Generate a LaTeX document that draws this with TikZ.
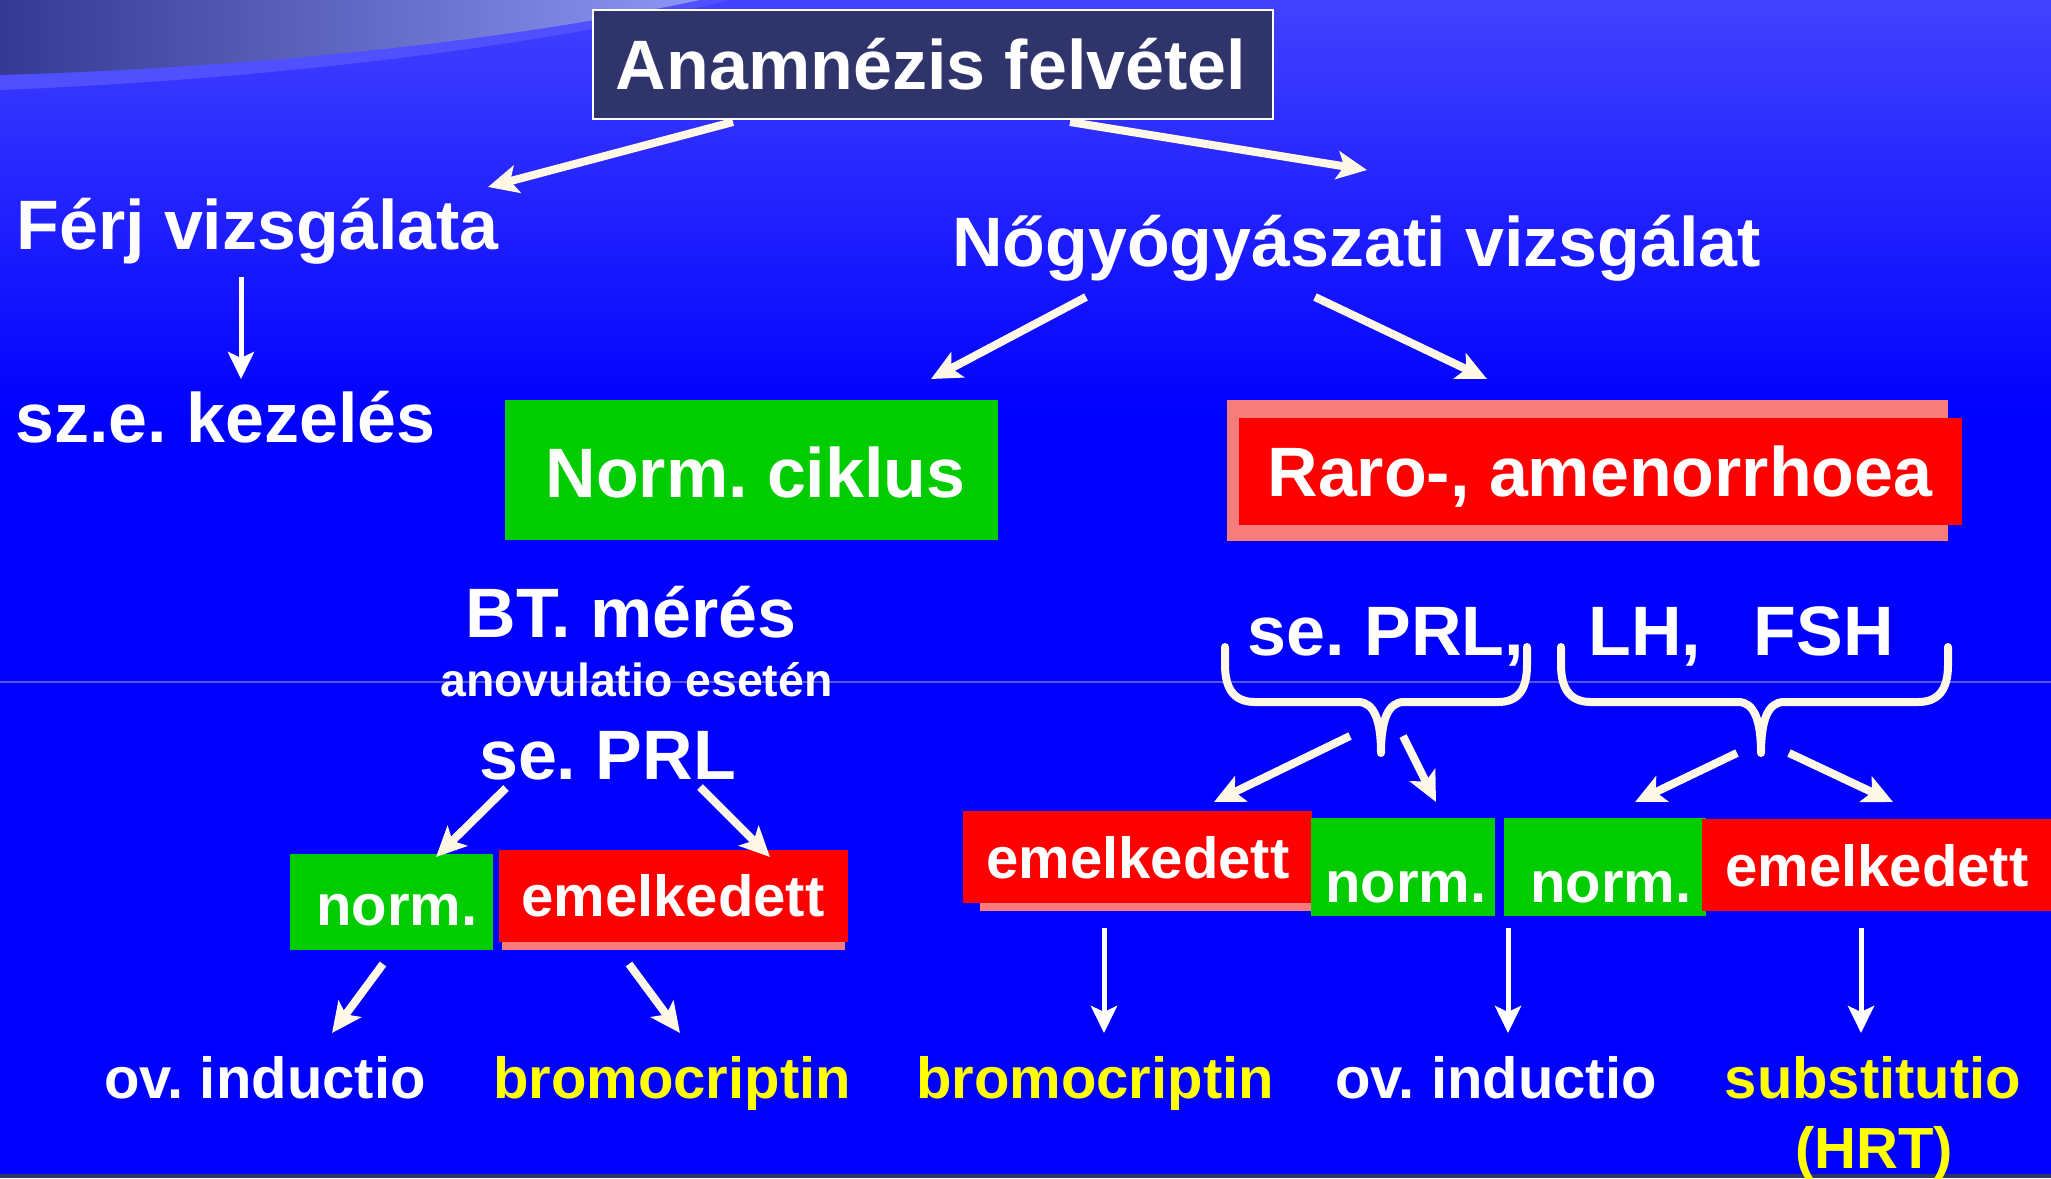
\documentclass[tikz,border=0pt]{standalone}
\usepackage{fontspec}
\setmainfont{Liberation Sans}
\usetikzlibrary{arrows.meta,calc}
\definecolor{bgblue}{RGB}{0,0,255}
\definecolor{topblue}{RGB}{66,66,255}
\definecolor{navy}{RGB}{47,52,107}
\definecolor{cream}{RGB}{255,248,230}
\definecolor{gbox}{RGB}{0,204,0}
\definecolor{rbox}{RGB}{255,0,0}
\definecolor{pinkbox}{RGB}{248,124,124}
\definecolor{yel}{RGB}{255,255,0}
\definecolor{swl}{RGB}{52,58,145}
\definecolor{swr}{RGB}{142,150,245}
\definecolor{band}{RGB}{80,80,255}
\definecolor{faint}{RGB}{85,85,215}
\frenchspacing
\begin{document}
\begin{tikzpicture}[x=0.01cm,y=-0.01cm,
  big/.style={text=white,font=\bfseries\fontsize{19.9pt}{24pt}\selectfont,inner sep=0pt,text height=14.2pt,text depth=0pt},
  mid/.style={text=white,font=\bfseries\fontsize{16.5pt}{20pt}\selectfont,inner sep=0pt,text height=11.8pt,text depth=0pt},
  small/.style={text=white,font=\bfseries\fontsize{13.2pt}{16pt}\selectfont,inner sep=0pt,text height=9.5pt,text depth=0pt},
  yellowtext/.style={text=yel},
  boxg/.style={fill=gbox,inner sep=0pt},
  boxr/.style={fill=rbox,inner sep=0pt},
  boxp/.style={fill=pinkbox,inner sep=0pt},
  darr/.style={draw=cream,line width=0.08cm,-{Stealth[length=0.3cm,width=0.28cm,inset=0.07cm]}},
  varr/.style={draw=white,line width=0.05cm,-{Stealth[length=0.27cm,width=0.26cm,inset=0.06cm]}},
  bracestyle/.style={draw=cream,line width=0.08cm,line cap=round,line join=round}]
\useasboundingbox (0,0) rectangle (2051,1178);
% background
\fill[bgblue] (0,0) rectangle (2051,1178);
\shade[top color=topblue,bottom color=bgblue] (0,0) rectangle (2051,420);
\fill[band] (0,0) -- (730,0) .. controls (560,42) and (300,78) .. (0,90) -- cycle;
\shade[left color=swl,right color=swr] (0,0) -- (700,0) .. controls (540,34) and (300,66) .. (0,75) -- cycle;
\draw[faint,line width=0.012cm] (0,682) -- (2051,682);
\fill[navy] (0,1174) rectangle (2051,1178);

% boxes
\node[fill=navy,draw=white,line width=0.025cm,minimum width=6.8cm,minimum height=1.09cm] (titlebox) at (933,64.5) {};
\node[boxg,minimum width=4.93cm,minimum height=1.40cm] (ncbox) at (751.5,470) {};
\node[boxp,minimum width=7.21cm,minimum height=1.41cm] (rarop) at (1587.5,470.5) {};
\node[boxr,minimum width=7.23cm,minimum height=1.07cm] (rarobox) at (1600.5,471.5) {};
\node[boxg,minimum width=2.03cm,minimum height=0.96cm] (n1box) at (391.5,902) {};
\node[boxp,minimum width=3.43cm,minimum height=0.90cm] (e1p) at (673.5,905) {};
\node[boxr,minimum width=3.49cm,minimum height=0.92cm] (e1box) at (673.5,896) {};
\node[boxp,minimum width=3.34cm,minimum height=0.81cm] (e2p) at (1147,870.5) {};
\node[boxr,minimum width=3.49cm,minimum height=0.92cm] (e2box) at (1137.5,857) {};
\node[boxg,minimum width=1.84cm,minimum height=0.98cm] (n2box) at (1403,867) {};
\node[boxg,minimum width=2.02cm,minimum height=0.98cm] (n3box) at (1605,867) {};
\node[boxr,minimum width=3.49cm,minimum height=0.92cm] (e3box) at (1876.5,865) {};

% texts
\node[big] (title) at (931,65) {Anamnézis felvétel};
\node[big] (ferj) at (257.5,225) {Férj vizsgálata};
\node[big] (szek) at (225.5,418) {sz.e. kezelés};
\node[big] (nogy) at (1356.5,242) {Nőgyógyászati vizsgálat};
\node[big] (normc) at (755.5,473) {Norm. ciklus};
\node[big] (raro) at (1600,472) {Raro-, amenorrhoea};
\node[big] (bt) at (631,613) {BT. mérés};
\node[small] (anov) at (636.5,680) {anovulatio esetén};
\node[big] (prl1) at (607.5,755) {se. PRL};
\node[big] (prl2) at (1386,631) {se. PRL,};
\node[big] (lhfsh) at (1741,631) {LH,\hspace{15pt}FSH};
\node[mid] (n1) at (397,905) {norm.};
\node[mid] (e1) at (673,896) {emelkedett};
\node[mid] (e2) at (1138,858) {emelkedett};
\node[mid] (n2) at (1406,882) {norm.};
\node[mid] (n3) at (1611,882) {norm.};
\node[mid] (e3) at (1877,866) {emelkedett};
\node[mid] (ov1) at (265,1078) {ov. inductio};
\node[mid,yellowtext] (br1) at (672,1078) {bromocriptin};
\node[mid,yellowtext] (br2) at (1095,1078) {bromocriptin};
\node[mid] (ov2) at (1496,1078) {ov. inductio};
\node[mid,yellowtext] (sub) at (1873,1078) {substitutio};
\node[mid,yellowtext] (hrt) at (1874,1148) {(HRT)};

% braces
\draw[bracestyle] (1225,647) -- (1225,665) .. controls (1225,690) and (1235,702) .. (1255,702) -- (1358,702) .. controls (1374,702) and (1381,720) .. (1381,753) .. controls (1381,720) and (1388,702) .. (1404,702) -- (1498,702) .. controls (1518,702) and (1527,690) .. (1527,665) -- (1527,647);
\draw[bracestyle] (1561,647) -- (1561,665) .. controls (1561,690) and (1571,702) .. (1591,702) -- (1738,702) .. controls (1754,702) and (1761,720) .. (1761,753) .. controls (1761,720) and (1768,702) .. (1784,702) -- (1918,702) .. controls (1938,702) and (1948,690) .. (1948,665) -- (1948,647);

% connector end points
\coordinate (a1s) at (733,122);  \coordinate (a1e) at (488,187);
\coordinate (a2s) at (1070,122); \coordinate (a2e) at (1367,170);
\coordinate (a3s) at (241,277);  \coordinate (a3e) at (241,379);
\coordinate (a4s) at (1086,297); \coordinate (a4e) at (931,379);
\coordinate (a5s) at (1315,297); \coordinate (a5e) at (1487,379);
\coordinate (a6s) at (506,788);  \coordinate (a6e) at (436,857);
\coordinate (a7s) at (700,787);  \coordinate (a7e) at (770,857);
\coordinate (a8s) at (383,964);  \coordinate (a8e) at (332,1033);
\coordinate (a9s) at (629,964);  \coordinate (a9e) at (680,1033);
\coordinate (a10s) at (1350,736); \coordinate (a10e) at (1214,802);
\coordinate (a11s) at (1403,736); \coordinate (a11e) at (1436,802);
\coordinate (a12s) at (1737,753); \coordinate (a12e) at (1635,802);
\coordinate (a13s) at (1789,753); \coordinate (a13e) at (1893,802);
\coordinate (a14s) at (1104,928); \coordinate (a14e) at (1104,1033);
\coordinate (a15s) at (1508,928); \coordinate (a15e) at (1508,1033);
\coordinate (a16s) at (1861,928); \coordinate (a16e) at (1861,1033);

% connectors
\draw[darr] (a1s) -- (a1e);
\draw[darr] (a2s) -- (a2e);
\draw[varr] (a3s) -- (a3e);
\draw[darr] (a4s) -- (a4e);
\draw[darr] (a5s) -- (a5e);
\draw[darr] (a6s) -- (a6e);
\draw[darr] (a7s) -- (a7e);
\draw[darr] (a8s) -- (a8e);
\draw[darr] (a9s) -- (a9e);
\draw[darr] (a10s) -- (a10e);
\draw[darr] (a11s) -- (a11e);
\draw[darr] (a12s) -- (a12e);
\draw[darr] (a13s) -- (a13e);
\draw[varr] (a14s) -- (a14e);
\draw[varr] (a15s) -- (a15e);
\draw[varr] (a16s) -- (a16e);
\end{tikzpicture}
\end{document}
